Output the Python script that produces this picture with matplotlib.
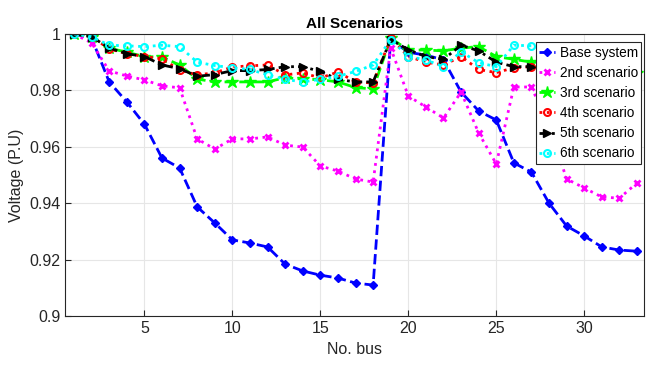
import matplotlib
matplotlib.use('Agg')
import matplotlib.pyplot as plt

plt.rcParams['font.family'] = ['Liberation Sans', 'DejaVu Sans']

bus = list(range(1, 34))

base = [1.0, 0.9985, 0.983, 0.9759, 0.968, 0.956, 0.9525, 0.9387, 0.933, 0.927,
        0.9259, 0.9245, 0.9184, 0.916, 0.9145, 0.9135, 0.9117, 0.911, 0.998, 0.9935,
        0.9925, 0.9908, 0.9794, 0.9727, 0.9695, 0.9543, 0.951, 0.940, 0.9319, 0.9284,
        0.9245, 0.9234, 0.923]
sc2 = [1.0, 0.9968, 0.9869, 0.9851, 0.9837, 0.9816, 0.9809, 0.9628, 0.9592, 0.9628,
       0.9628, 0.9635, 0.9606, 0.9599, 0.9532, 0.9514, 0.9486, 0.9475, 0.995, 0.978,
       0.9741, 0.9702, 0.9794, 0.9649, 0.9539, 0.9812, 0.9812, 0.967, 0.9486, 0.9454,
       0.9422, 0.9418, 0.9472]
sc3 = [1.0, 0.999, 0.995, 0.9935, 0.992, 0.9918, 0.989, 0.984, 0.983, 0.983,
       0.983, 0.983, 0.9845, 0.984, 0.9838, 0.983, 0.981, 0.9805, 0.9985, 0.9943,
       0.9943, 0.994, 0.995, 0.9955, 0.992, 0.991, 0.990, 0.990, 0.989, 0.988,
       0.987, 0.987, 0.986]
sc4 = [1.0, 0.999, 0.9947, 0.993, 0.992, 0.9912, 0.9872, 0.9855, 0.9862, 0.9883,
       0.9887, 0.989, 0.9855, 0.9862, 0.9844, 0.9865, 0.983, 0.9826, 0.9985, 0.992,
       0.990, 0.989, 0.992, 0.9874, 0.9863, 0.988, 0.9884, 0.987, 0.986, 0.985,
       0.984, 0.983, 0.9828]
sc5 = [1.0, 0.999, 0.995, 0.993, 0.992, 0.989, 0.9877, 0.985, 0.9856, 0.987,
       0.987, 0.9874, 0.9884, 0.9884, 0.9867, 0.9839, 0.983, 0.983, 0.998, 0.9944,
       0.992, 0.991, 0.996, 0.994, 0.990, 0.9884, 0.9884, 0.988, 0.987, 0.986,
       0.985, 0.985, 0.9845]
sc6 = [1.0, 0.999, 0.996, 0.9958, 0.9955, 0.996, 0.9955, 0.990, 0.9888, 0.988,
       0.9874, 0.9855, 0.9839, 0.983, 0.9839, 0.985, 0.9867, 0.989, 0.998, 0.992,
       0.9908, 0.9884, 0.9937, 0.9898, 0.9884, 0.996, 0.9958, 0.994, 0.992, 0.990,
       0.989, 0.988, 0.9874]

fig = plt.figure(figsize=(6.46, 3.65), dpi=100)
ax = fig.add_axes([0.101, 0.134, 0.896, 0.773])

ax.plot(bus, base, color='blue', ls='--', lw=2, marker='D', ms=4, label='Base system')
ax.plot(bus, sc2, color='magenta', ls=':', lw=2, marker='x', ms=5, mew=2, label='2nd scenario')
ax.plot(bus, sc3, color='#00ff00', ls='--', lw=2, marker='*', ms=9, label='3rd scenario')
ax.plot(bus, sc4, color='red', ls=':', lw=2, marker='o', ms=5, mfc='none', mew=1.5, label='4th scenario')
ax.plot(bus, sc5, color='black', ls=(0, (3, 1.5, 1, 1.5)), lw=2, marker='>', ms=6, label='5th scenario')
ax.plot(bus, sc6, color='cyan', ls=':', lw=2, marker='o', ms=5, mfc='none', mew=1.5, label='6th scenario')

ax.set_xlim(0.5, 33.4)
ax.set_ylim(0.9, 1.0)
ax.set_xticks([5, 10, 15, 20, 25, 30])
ax.set_yticks([0.9, 0.92, 0.94, 0.96, 0.98, 1.0])
ax.set_yticklabels(['0.9', '0.92', '0.94', '0.96', '0.98', '1'])
ax.grid(True, color='#e6e6e6', lw=0.8)
ax.set_axisbelow(True)
ax.tick_params(direction='in', labelsize=11.5, colors='#262626', length=4)
for s in ax.spines.values():
    s.set_color('#262626')
    s.set_linewidth(0.8)

ax.set_xlabel('No. bus', fontsize=11.5, color='#262626')
ax.set_ylabel('Voltage (P.U)', fontsize=11.5, color='#262626')
ax.set_title('All Scenarios', fontsize=11, fontweight='bold', pad=4)

leg = ax.legend(loc='upper right', bbox_to_anchor=(0.995, 0.97), fontsize=9.8,
                frameon=True, fancybox=False, edgecolor='#262626', framealpha=1,
                borderpad=0.25, labelspacing=0.45, handlelength=1.2, handletextpad=0.3,
                borderaxespad=0)
leg.get_frame().set_linewidth(0.8)

fig.savefig('out.png', dpi=100)
